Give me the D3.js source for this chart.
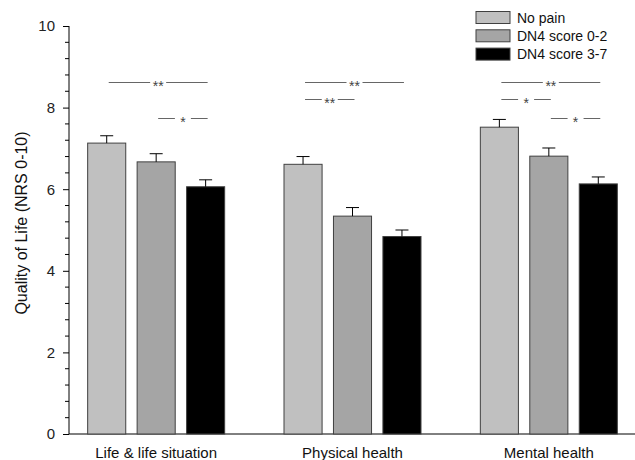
<!DOCTYPE html>
<html><head><meta charset="utf-8">
<script src="https://cdn.jsdelivr.net/npm/d3@7"></script>
<style>body{margin:0;background:#fff}svg{display:block}text{font-family:"Liberation Sans",Arial,sans-serif}</style>
</head><body><svg id="c" width="635" height="460"></svg>
<script>
const categories = ["Life & life situation", "Physical health", "Mental health"];
const series = ["No pain", "DN4 score 0-2", "DN4 score 3-7"];
const means = [
  [7.13, 6.67, 6.06],
  [6.61, 5.34, 4.84],
  [7.52, 6.81, 6.13]
];
const errTops = [
  [7.31, 6.87, 6.23],
  [6.80, 5.55, 5.00],
  [7.71, 7.01, 6.30]
];
const yTicks = [0, 2, 4, 6, 8, 10];
// significance brackets: [category index, from series, to series, level (y value), label]
const sigs = [
  [0, 0, 2, 8.63, "**"],
  [0, 1, 2, 7.75, "*"],
  [1, 0, 2, 8.63, "**"],
  [1, 0, 1, 8.2, "**"],
  [2, 0, 2, 8.63, "**"],
  [2, 0, 1, 8.2, "*"],
  [2, 1, 2, 7.75, "*"]
];
const colors = ["#c0c0c0", "#a5a5a5", "#000000"];

const svg = d3.select("#c");
const y = d3.scaleLinear().domain([0, 10]).range([434, 26]);
const x0 = d3.scaleBand().domain(categories).range([58, 647]).paddingInner(0).paddingOuter(0);
const x1 = d3.scaleBand().domain(series).range([-68.5, 68.5]).paddingInner(0.23).paddingOuter(0);

// y axis
const axisY = d3.axisLeft(y).tickValues(yTicks).tickSize(6).tickPadding(8);
const gy = svg.append("g").attr("transform", "translate(69,0)").call(axisY);
gy.select(".domain").attr("d", "M0,434V26").attr("stroke", "#000");
gy.selectAll(".tick line").attr("stroke", "#000");
gy.selectAll(".tick text").attr("font-size", 15).attr("fill", "#222");
const minor = d3.range(0, 10.001, 0.4).filter(v => !yTicks.some(t => Math.abs(t - v) < 1e-6));
svg.append("g").selectAll("line").data(minor).join("line")
  .attr("x1", 65).attr("x2", 69)
  .attr("y1", d => y(d)).attr("y2", d => y(d)).attr("stroke", "#000");

// x axis line
svg.append("line").attr("x1", 69).attr("x2", 635).attr("y1", y(0)).attr("y2", y(0)).attr("stroke", "#000");

// bars
const groups = svg.append("g").selectAll("g").data(categories).join("g")
  .attr("transform", c => `translate(${x0(c) + x0.bandwidth() / 2},0)`);
groups.each(function (c, ci) {
  const g = d3.select(this);
  series.forEach((s, si) => {
    const bx = x1(s), bw = x1.bandwidth();
    g.append("rect").attr("x", bx).attr("width", bw)
      .attr("y", y(means[ci][si])).attr("height", y(0) - y(means[ci][si]))
      .attr("fill", colors[si]).attr("stroke", "#404040").attr("stroke-width", 1);
    const cx = bx + bw / 2;
    g.append("line").attr("x1", cx).attr("x2", cx)
      .attr("y1", y(means[ci][si])).attr("y2", y(errTops[ci][si])).attr("stroke", "#000");
    g.append("line").attr("x1", cx - 6.5).attr("x2", cx + 6.5)
      .attr("y1", y(errTops[ci][si])).attr("y2", y(errTops[ci][si])).attr("stroke", "#000");
  });
});

// x labels
svg.append("g").selectAll("text").data(categories).join("text")
  .attr("x", c => x0(c) + x0.bandwidth() / 2).attr("y", 458)
  .attr("text-anchor", "middle").attr("font-size", 15).attr("fill", "#111").text(c => c);

// y label
svg.append("text").attr("transform", "translate(27,223) rotate(-90)")
  .attr("text-anchor", "middle").attr("font-size", 16).attr("fill", "#111")
  .text("Quality of Life (NRS 0-10)");

// significance
const sg = svg.append("g").style("opacity", 0.999);
sigs.forEach(([ci, a, b, lvl, lab]) => {
  const base = x0(categories[ci]) + x0.bandwidth() / 2;
  const xa = base + x1(series[a]) + x1.bandwidth() / 2 + 2;
  const xb = base + x1(series[b]) + x1.bandwidth() / 2 + 2;
  const mid = (xa + xb) / 2;
  const half = 8;
  const yy = Math.round(y(lvl)) + 0.5;
  sg.append("line").attr("x1", xa).attr("x2", mid - half).attr("y1", yy).attr("y2", yy).attr("stroke", "#666");
  sg.append("line").attr("x1", mid + half).attr("x2", xb).attr("y1", yy).attr("y2", yy).attr("stroke", "#666");
  sg.append("text").attr("x", mid).attr("y", yy + 8).attr("text-anchor", "middle")
    .attr("font-size", 14).attr("fill", "#444").text(lab);
});

// legend
const leg = svg.append("g").selectAll("g").data(series).join("g")
  .attr("transform", (d, i) => `translate(476,${11.5 + i * 18.3})`);
leg.append("rect").attr("width", 34).attr("height", 12)
  .attr("fill", (d, i) => colors[i]).attr("stroke", "#404040");
leg.append("text").attr("x", 41).attr("y", 11).attr("font-size", 14).attr("fill", "#111").text(d => d);
</script></body></html>
